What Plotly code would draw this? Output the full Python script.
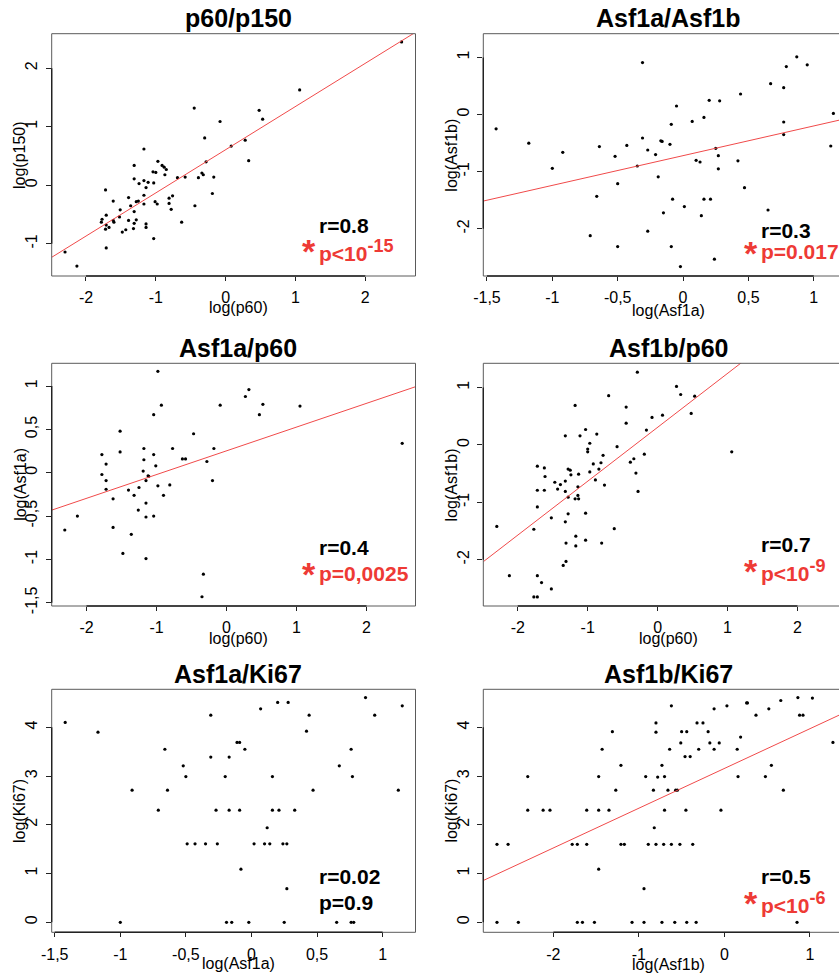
import plotly.graph_objects as go

W, H = 839, 974

# ---------------- data (log values) ----------------
# Panel 1: x = log(p60), y = log(p150)
p60_p150 = [(-2.30,-1.14),(-2.13,-1.38),(2.52,2.45),(1.06,1.63),(0.48,1.28),(0.53,1.13),
            (-0.45,1.32),(-0.08,1.09),(-0.30,0.81),(0.28,0.77),(0.08,0.67),(0.33,0.42),
            (-0.28,0.40),(-1.17,0.62),(-0.97,0.41),(-1.31,0.34),(-0.91,0.34),(-0.88,0.31),
            (-1.04,0.23),(-1.00,0.22),(-0.85,0.27),(-0.87,0.18),(-1.31,0.11),(-1.17,0.08),
            (-1.11,0.05),(-1.24,0.03),(-1.03,0.04),(-0.69,0.13),(-0.58,0.14),(-0.34,0.21),
            (-0.32,0.18),(-0.39,0.13),(-0.17,0.14),(-1.14,-0.04),(-1.72,-0.08),(-0.19,-0.14),
            (-1.17,-0.17),(-0.76,-0.18),(-1.39,-0.21),(-0.81,-0.22),(-1.61,-0.27),(-1.28,-0.28),
            (-1.25,-0.27),(-1.01,-0.28),(-0.98,-0.32),(-0.81,-0.31),(-1.36,-0.35),(-0.44,-0.35),
            (-1.17,-0.32),(-0.78,-0.41),(-1.51,-0.42),(-1.31,-0.45),(-1.52,-0.54),(-1.71,-0.51),
            (-1.39,-0.60),(-1.28,-0.59),(-1.77,-0.58),(-1.78,-0.63),(-1.61,-0.60),(-1.60,-0.63),
            (-1.31,-0.65),(-1.14,-0.66),(-0.63,-0.63),(-1.71,-0.68),(-1.32,-0.74),(-1.14,-0.72),
            (-1.67,-0.72),(-1.72,-0.75),(-1.43,-0.76),(-1.48,-0.80),(-1.03,-0.91),(-1.71,-1.07)]

# Panel 2: x = log(Asf1a), y = log(Asf1b)
asf1a_asf1b = [(-1.43,-0.25),(-1.18,-0.50),(-1.00,-0.94),(-0.92,-0.66),(-0.66,-1.43),(-0.71,-2.12),
               (-0.64,-0.56),(-0.52,-0.73),(-0.50,-1.21),(-0.50,-2.31),(-0.43,-0.54),(-0.35,-0.90),
               (-0.31,0.91),(-0.31,-0.41),(-0.27,-0.62),(-0.27,-2.04),(-0.21,-0.70),(-0.19,-1.09),
               (-0.17,-0.46),(-0.16,-0.47),(-0.15,-1.72),(-0.10,-0.52),(-0.09,-0.17),(-0.09,-2.31),
               (-0.08,-1.48),(-0.05,0.15),(-0.02,-2.66),(0.01,-1.61),(0.07,-0.12),(0.10,-0.80),
               (0.13,-0.83),(0.14,-1.77),(0.16,-0.05),(0.16,-1.48),(0.20,0.25),(0.21,-1.48),
               (0.24,-2.53),(0.25,-0.59),(0.27,-0.72),(0.27,-0.95),(0.28,0.24),(0.42,-0.81),
               (0.44,0.36),(0.47,-1.28),(0.65,-1.67),(0.67,0.54),(0.77,-0.13),(0.77,-0.35),
               (0.77,0.47),(0.79,0.84),(0.87,1.01),(0.95,0.87),(1.13,-0.55),(1.15,0.02)]

# Panel 3: x = log(p60), y = log(Asf1a)
asf1a_p60 = [(-2.31,-0.66),(-2.13,-0.50),(-1.78,0.21),(-1.78,-0.02),(-1.72,0.10),(-1.72,-0.09),
             (-1.72,-0.19),(-1.62,-0.30),(-1.62,-0.63),(-1.52,0.48),(-1.52,0.24),(-1.48,-0.93),
             (-1.40,-0.20),(-1.36,-0.71),(-1.32,-0.26),(-1.26,-0.43),(-1.25,-0.17),(-1.18,0.28),
             (-1.18,0.15),(-1.19,0.02),(-1.15,-0.09),(-1.15,-0.35),(-1.15,-0.51),(-1.15,-0.99),
             (-1.12,-0.035),(-1.11,-0.04),(-1.04,0.67),(-1.04,0.21),(-1.04,-0.50),(-1.01,0.08),
             (-0.98,-0.15),(-0.98,1.17),(-0.93,0.78),(-0.90,-0.26),(-0.81,-0.14),(-0.77,0.28),
             (-0.63,0.16),(-0.585,0.16),(-0.47,0.45),(-0.33,-1.17),(-0.35,-1.43),(-0.28,0.13),
             (-0.20,-0.09),(-0.18,0.28),(-0.09,0.78),(0.27,0.88),(0.32,0.96),(0.47,0.67),
             (0.52,0.79),(1.05,0.77),(2.51,0.34)]

# Panel 4: x = log(p60), y = log(Asf1b)
asf1b_p60 = [(-2.30,-1.42),(-2.12,-2.28),(-1.77,-1.47),(-1.77,-2.65),(-1.72,-2.65),(-1.72,-0.37),
             (-1.72,-0.79),(-1.72,-1.08),(-1.72,-2.28),(-1.66,-2.40),(-1.62,-0.40),(-1.61,-0.55),
             (-1.62,-0.79),(-1.52,-1.27),(-1.52,-2.51),(-1.47,-0.65),(-1.43,-0.77),(-1.39,-0.69),
             (-1.35,-2.10),(-1.32,0.16),(-1.32,-0.63),(-1.32,-0.81),(-1.32,-1.34),(-1.31,-1.71),
             (-1.31,-2.03),(-1.28,-0.42),(-1.28,-0.91),(-1.28,-1.20),(-1.25,-0.44),(-1.24,-0.52),
             (-1.18,0.69),(-1.18,-0.94),(-1.17,-1.59),(-1.17,-1.76),(-1.14,-0.73),(-1.14,-0.88),
             (-1.13,-0.94),(-1.13,-0.51),(-1.11,0.16),(-1.03,0.27),(-1.03,-1.19),(-1.03,-1.66),
             (-1.00,-0.07),(-1.00,-0.12),(-0.97,0.03),(-0.97,-0.47),(-0.92,-0.33),(-0.89,-0.61),
             (-0.87,0.19),(-0.84,-0.42),(-0.81,-0.31),(-0.80,-1.71),(-0.78,-0.18),(-0.76,-0.70),
             (-0.70,0.86),(-0.62,-1.46),(-0.58,-0.03),(-0.45,0.66),(-0.45,0.38),(-0.39,-0.30),
             (-0.34,-0.24),(-0.31,-0.49),(-0.29,1.27),(-0.28,-0.81),(-0.19,-0.16),(-0.16,0.26),
             (-0.08,0.48),(0.07,0.52),(0.27,1.02),(0.33,0.88),(0.48,0.55),(0.53,0.85),(1.06,-0.12)]

# Panel 5: x = log(Asf1a), y = log(Ki67)
asf1a_ki67 = [(-1.42,4.10),(-1.17,3.90),(-1.00,0.0),(-0.91,2.71),(-0.71,2.30),(-0.66,3.55),
              (-0.64,2.71),(-0.52,3.21),(-0.50,2.99),(-0.49,1.61),(-0.43,1.61),(-0.35,1.61),
              (-0.31,4.25),(-0.31,3.39),(-0.27,2.30),(-0.26,1.61),(-0.20,2.99),(-0.19,0.0),
              (-0.17,3.39),(-0.17,2.30),(-0.15,0.0),(-0.11,3.69),(-0.09,3.69),(-0.09,2.30),
              (-0.08,1.09),(-0.05,3.55),(-0.02,0.0),(0.02,1.61),(0.07,4.38),(0.10,1.61),
              (0.12,1.94),(0.14,1.61),(0.16,2.99),(0.16,2.30),(0.20,4.51),(0.21,2.30),
              (0.24,1.61),(0.25,0.0),(0.27,1.61),(0.27,0.69),(0.28,4.51),(0.33,2.30),
              (0.42,3.92),(0.44,4.25),(0.47,2.71),(0.65,0.0),(0.67,3.21),(0.76,3.55),
              (0.76,0.0),(0.78,0.0),(0.77,2.99),(0.87,4.61),(0.94,4.25),(1.12,2.71),(1.15,4.44)]

# Panel 6: x = log(Asf1b), y = log(Ki67)
asf1b_ki67 = [(-2.66,1.60),(-2.53,1.60),(-2.66,0.0),(-2.41,0.0),(-2.30,2.99),(-2.30,2.30),
              (-2.12,2.30),(-2.04,2.30),(-1.78,1.60),(-1.72,1.60),(-1.61,1.60),(-1.61,2.30),
              (-1.72,0.0),(-1.66,0.0),(-1.52,0.0),(-1.47,2.99),(-1.47,2.30),(-1.47,1.09),
              (-1.43,3.55),(-1.35,2.30),(-1.31,3.91),(-1.27,2.71),(-1.21,3.22),(-1.21,1.60),
              (-1.17,1.60),(-1.08,0.0),(-0.94,0.69),(-0.94,0.0),(-0.92,2.99),(-0.89,1.60),
              (-0.83,2.71),(-0.82,1.94),(-0.80,1.60),(-0.80,4.09),(-0.80,3.90),(-0.78,2.98),
              (-0.73,3.22),(-0.73,0.0),(-0.70,2.99),(-0.70,2.30),(-0.71,1.60),(-0.62,4.44),
              (-0.66,2.71),(-0.64,3.55),(-0.62,1.60),(-0.58,0.0),(-0.57,2.71),(-0.55,2.71),
              (-0.51,3.68),(-0.50,3.91),(-0.46,3.40),(-0.45,2.30),(-0.44,3.91),(-0.40,3.40),
              (-0.52,1.60),(-0.44,0.0),(-0.37,1.60),(-0.33,0.0),(-0.32,4.09),(-0.30,3.55),
              (-0.25,4.09),(-0.19,3.91),(-0.17,3.68),(-0.12,4.38),(-0.12,3.55),(-0.06,3.68),
              (-0.04,2.30),(0.03,4.44),(0.15,3.55),(0.19,3.80),(0.16,2.99),(0.26,4.50),
              (0.27,4.50),(0.37,4.25),(0.48,2.99),(0.52,4.38),(0.55,3.22),(0.66,4.55),
              (0.69,2.71),(0.86,4.61),(0.88,4.25),(0.92,4.25),(0.85,0.0),(1.03,4.60),(1.27,3.69)]

# regression lines (slope, intercept); None = no line
reg_lines = [(0.738, 0.608), (0.52, -0.719), (0.274, 0.253), (0.94, 0.308), None, (0.815, 3.156)]

titles = ["p60/p150", "Asf1a/Asf1b", "Asf1a/p60", "Asf1b/p60", "Asf1a/Ki67", "Asf1b/Ki67"]
x_titles = ["log(p60)", "log(Asf1a)", "log(p60)", "log(p60)", "log(Asf1a)", "log(Asf1b)"]
y_titles = ["log(p150)", "log(Asf1b)", "log(Asf1a)", "log(Asf1b)", "log(Ki67)", "log(Ki67)"]
r_texts = ["r=0.8", "r=0.3", "r=0.4", "r=0.7", "r=0.02", "r=0.5"]
p_texts = ["p<10", "p=0.017", "p=0,0025", "p<10", "p=0.9", "p<10"]
p_exponents = ["-15", "", "", "-9", "", "-6"]
significant = [True, True, True, True, False, True]

ticks_int = [-2, -1, 0, 1, 2]
ticks_int_labels = ["-2", "-1", "0", "1", "2"]
ticks_half = [-1.5, -1, -0.5, 0, 0.5, 1]
ticks_half_labels = ["-1,5", "-1", "-0,5", "0", "0,5", "1"]
ticks_y12 = [-1, 0, 1, 2]
ticks_y12_labels = ["-1", "0", "1", "2"]
ticks_y21 = [-2, -1, 0, 1]
ticks_y21_labels = ["-2", "-1", "0", "1"]
ticks_ki = [0, 1, 2, 3, 4]
ticks_ki_labels = ["0", "1", "2", "3", "4"]
ticks_x6 = [-2, -1, 0, 1]
ticks_x6_labels = ["-2", "-1", "0", "1"]

datasets = [p60_p150, asf1a_asf1b, asf1a_p60, asf1b_p60, asf1a_ki67, asf1b_ki67]
xticks = [(ticks_int, ticks_int_labels), (ticks_half, ticks_half_labels), (ticks_int, ticks_int_labels),
          (ticks_int, ticks_int_labels), (ticks_half, ticks_half_labels), (ticks_x6, ticks_x6_labels)]
yticks = [(ticks_y12, ticks_y12_labels), (ticks_y21, ticks_y21_labels), (ticks_half, ticks_half_labels),
          (ticks_y21, ticks_y21_labels), (ticks_ki, ticks_ki_labels), (ticks_ki, ticks_ki_labels)]

# ---------------- layout geometry ----------------
x_ranges = [[-2.491, 2.719], [-1.528, 1.193], [-2.497, 2.70], [-2.493, 2.594], [-1.523, 1.251], [-2.82, 1.341]]
y_ranges = [[-1.55, 2.59], [-2.825, 1.415], [-1.537, 1.263], [-2.808, 1.424], [-0.205, 4.78], [-0.205, 4.78]]
col_px = [(51.7, 415.5), (483.3, 839.0)]
row_px = [(33.7, 276.0), (363.3, 606.0), (689.3, 932.3)]
xtitle_dy = [31.0, 34.0, 32.5, 32.0, 31.5, 32.0]
r_dy = [192.7, 197.4, 185.0, 181.7, 188.4, 188.4]
p_dy = [216.7, 218.0, 210.0, 206.7, 213.4, 213.0]

RED = "#EE3A35"
LINE_RED = "#F04A4A"
FONT = "Liberation Sans, Arial, Helvetica, sans-serif"

fig = go.Figure()
layout = dict(width=W, height=H, margin=dict(l=0, r=0, t=0, b=0, pad=0, autoexpand=False),
              showlegend=False, plot_bgcolor="white", paper_bgcolor="white",
              font=dict(family=FONT, color="black", size=16))
annotations = []
shapes = []


def fx(px):
    return px / W


def fy(py):
    return 1 - py / H


for i in range(6):
    row, col = divmod(i, 2)
    n = i + 1
    xa = "x" if n == 1 else f"x{n}"
    ya = "y" if n == 1 else f"y{n}"
    x0p, x1p = col_px[col]
    y0p, y1p = row_px[row]
    pts = datasets[i]
    xs = [p[0] for p in pts]
    ys = [p[1] for p in pts]
    fig.add_trace(go.Scatter(x=xs, y=ys, mode="markers", xaxis=xa, yaxis=ya,
                             marker=dict(size=3.2, color="black"), hoverinfo="skip"))
    if reg_lines[i] is not None:
        s, b = reg_lines[i]
        lx = [x_ranges[i][0], x_ranges[i][1]]
        fig.add_trace(go.Scatter(x=lx, y=[s * v + b for v in lx], mode="lines", xaxis=xa, yaxis=ya,
                                 line=dict(color=LINE_RED, width=1), hoverinfo="skip"))
    layout[f"xaxis{'' if n == 1 else n}"] = dict(
        domain=[fx(x0p), min(1.0, fx(x1p))], range=x_ranges[i], anchor=ya, automargin=False,
        showgrid=False, zeroline=False, showline=False,
        tickmode="array", tickvals=xticks[i][0], ticktext=xticks[i][1],
        ticks="outside", ticklen=4, tickwidth=1, tickcolor="#222", ticklabelstandoff=3,
        tickfont=dict(size=16, color="black", family=FONT))
    layout[f"yaxis{'' if n == 1 else n}"] = dict(
        domain=[fy(y1p), fy(y0p)], range=y_ranges[i], anchor=xa, automargin=False,
        showgrid=False, zeroline=False, showline=False,
        tickmode="array", tickvals=yticks[i][0], ticktext=yticks[i][1],
        ticks="outside", ticklen=5, tickwidth=1, tickcolor="#222", tickangle=-90,
        ticklabelstandoff=2,
        tickfont=dict(size=16, color="black", family=FONT))
    # box (paper coordinates)
    bx0, bx1 = fx(x0p), min(1.0, fx(x1p))
    by0, by1 = fy(y1p), fy(y0p)
    segs = [(bx0, bx1, by1, by1), (bx0, bx0, by0, by1), (bx0, bx1, by0, by0)]
    if col == 0:
        segs.append((bx1, bx1, by0, by1))
    for sx0, sx1, sy0, sy1 in segs:
        shapes.append(dict(type="line", xref="paper", yref="paper", x0=sx0, x1=sx1, y0=sy0, y1=sy1,
                           line=dict(color="#5a5a5a", width=1)))
    # R-style axis segments between first and last tick
    xt = xticks[i][0]
    yt = yticks[i][0]
    shapes.append(dict(type="line", xref=xa, yref="paper", x0=xt[0], x1=xt[-1], y0=by0, y1=by0,
                       line=dict(color="#222", width=1.4)))
    shapes.append(dict(type="line", xref="paper", yref=ya, x0=bx0, x1=bx0, y0=yt[0], y1=yt[-1],
                       line=dict(color="#222", width=1.4)))
    # titles
    tcx = 238.0 if col == 0 else 668.0
    annotations.append(dict(text=f"<b>{titles[i]}</b>", xref="paper", yref="paper",
                            x=fx(tcx), y=fy(y0p - 15.6), xanchor="center", yanchor="middle",
                            showarrow=False, font=dict(size=25, color="black", family=FONT)))
    annotations.append(dict(text=x_titles[i], xref="paper", yref="paper",
                            x=fx(tcx), y=fy(y1p + xtitle_dy[i]), xanchor="center", yanchor="middle",
                            showarrow=False, font=dict(size=16, color="black", family=FONT)))
    annotations.append(dict(text=y_titles[i], xref="paper", yref="paper", textangle=-90,
                            x=fx(x0p - 31.5), y=fy((y0p + y1p) / 2), xanchor="center", yanchor="middle",
                            showarrow=False, font=dict(size=16, color="black", family=FONT)))
    # stats
    sx = 318.3 if col == 0 else 760.0
    annotations.append(dict(text=f"<b>{r_texts[i]}</b>", xref="paper", yref="paper",
                            x=fx(sx - 1), y=fy(y0p + r_dy[i] - 1), xanchor="left", yanchor="middle",
                            showarrow=False, font=dict(size=21, color="black", family=FONT)))
    pc = RED if significant[i] else "black"
    ptxt = f"<b>{p_texts[i]}</b>"
    if p_exponents[i]:
        ptxt += f"<sup><b><span style='font-size:18px'>{p_exponents[i]}</span></b></sup>"
    annotations.append(dict(text=ptxt, xref="paper", yref="paper",
                            x=fx(sx - 1), y=fy(y0p + p_dy[i]), xanchor="left", yanchor="middle",
                            showarrow=False, font=dict(size=21, color=pc, family=FONT)))
    if significant[i]:
        annotations.append(dict(text="<b>*</b>", xref="paper", yref="paper",
                                x=fx(sx), y=fy(y0p + p_dy[i] + 1), xanchor="right", yanchor="middle",
                                showarrow=False, font=dict(size=34, color=RED, family=FONT)))

layout["annotations"] = annotations
layout["shapes"] = shapes
fig.update_layout(**layout)
fig.write_html("out.html")
